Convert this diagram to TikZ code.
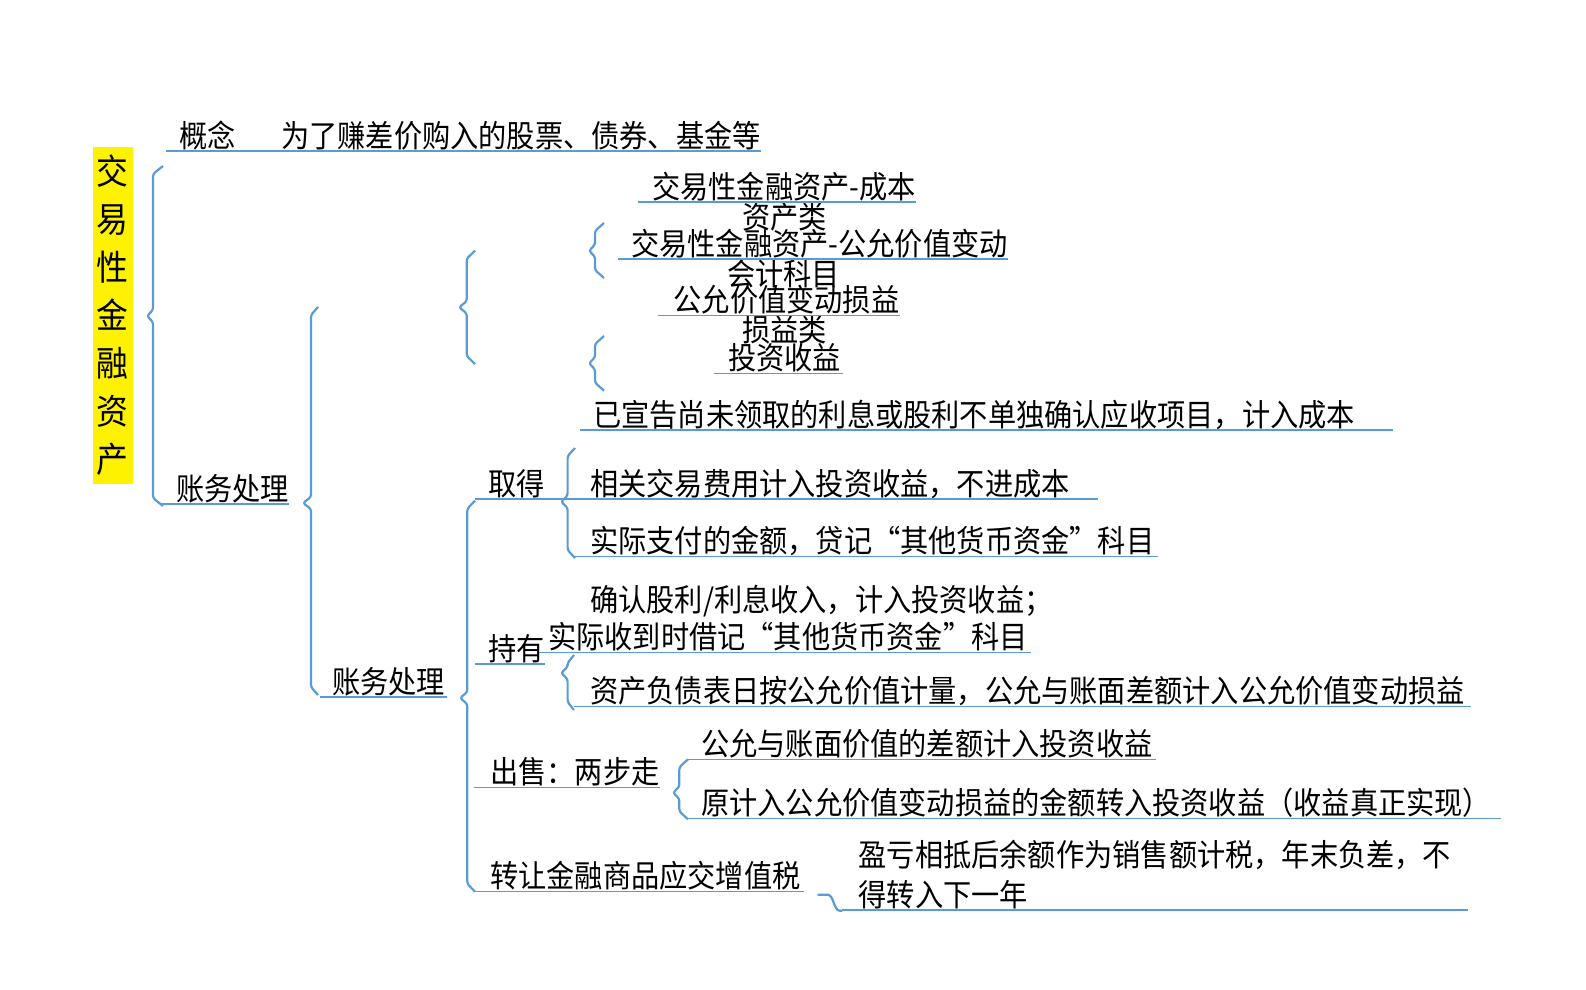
\documentclass[tikz,border=0pt]{standalone}
\usepackage{fontspec}
\usepackage{tikz}

\newfontfamily\cjk[FakeStretch=0.91]{Noto Sans CJK SC}
\definecolor{lineblue}{RGB}{91,155,213}

\tikzset{
    brace/.style={draw=lineblue, line width=2.2pt, rounded corners=2.5pt, line join=round},
    uline/.style={draw=lineblue, line width=1.4pt},
    topic/.style={anchor=south west, inner sep=0pt, text depth=3.7pt, text=black,
        font=\cjk\fontsize{31}{40}\selectfont},
    rootbox/.style={fill=yellow, minimum width=40pt, minimum height=337pt, inner sep=0pt,
        align=center, font=\cjk\fontsize{35}{48}\selectfont}
}

% curly brace: tip x, vertical x, end x, top, tip, bottom
\newcommand{\mapbrace}[6]{%
    \draw[brace] (#3,#4) -- (#2,#4+8) -- (#2,#5-6) -- (#1,#5) -- (#2,#5+6) -- (#2,#6-8) -- (#3,#6);
}

\begin{document}
\begin{tikzpicture}[x=1pt, y=-1pt]
        \useasboundingbox (0,0) rectangle (1586,989);

        % root
        \node[rootbox] (root) at (112.7,315) {交\\易\\性\\金\\融\\资\\产};

        % first level
        \node[topic] (gainian) at (179,151) {概念};
        \node[topic] (gainiandef) at (281,151) {为了赚差价购入的股票、债券、基金等};
        \node[topic] (zhangwu1) at (176,504) {账务处理};
        \node[topic] (zhangwu2) at (332,697) {账务处理};

        % accounting subjects
        \node[topic] (kmcost) at (652,202) {交易性金融资产-成本};
        \node[topic] (zichanlei) at (742,232) {资产类};
        \node[topic] (kmfair) at (631,259) {交易性金融资产-公允价值变动};
        \node[topic] (kuaiji) at (727,289) {会计科目};
        \node[topic] (kmchange) at (673.5,315.7) {公允价值变动损益};
        \node[topic] (sunyilei) at (742,345.5) {损益类};
        \node[topic] (kmincome) at (728,373.3) {投资收益};

        % acquisition
        \node[topic] (yixuangao) at (593,430) {已宣告尚未领取的利息或股利不单独确认应收项目，计入成本};
        \node[topic] (qude) at (488,499) {取得};
        \node[topic] (qdfee) at (590,499) {相关交易费用计入投资收益，不进成本};
        \node[topic] (qdpay) at (590,556.7) {实际支付的金额，贷记“其他货币资金”科目};

        % holding
        \node[topic] (cyconfirm) at (590,615.5) {确认股利/利息收入，计入投资收益；};
        \node[topic] (cyreceive) at (548,652.3) {实际收到时借记“其他货币资金”科目};
        \node[topic] (chiyou) at (488,664) {持有};
        \node[topic] (cyfair) at (590,706.7) {资产负债表日按公允价值计量，公允与账面差额计入公允价值变动损益};

        % sale
        \node[topic] (csdiff) at (701,759.3) {公允与账面价值的差额计入投资收益};
        \node[topic] (chushou) at (490,787.3) {出售：两步走};
        \node[topic] (cstransfer) at (701,818.3) {原计入公允价值变动损益的金额转入投资收益（收益真正实现）};

        % transfer tax
        \node[topic] (zhuanrang) at (490,891.7) {转让金融商品应交增值税};
        \node[topic, align=left] (yingkui) at (858.5,910) {盈亏相抵后余额作为销售额计税，年末负差，不\\得转入下一年};

        % underlines
        \foreach \n/\a/\b in {gainian/13pt/49pt, gainiandef/0pt/0pt, zhangwu1/16pt/0pt,
            zhangwu2/12pt/2pt, kmcost/14pt/0pt, kmfair/13pt/0pt, kmchange/15.5pt/0pt,
            kmincome/14.4pt/2pt, yixuangao/13pt/38pt, qude/13pt/25.6pt, qdfee/22pt/28pt,
            qdpay/16pt/3pt, cyreceive/9pt/3pt, chiyou/13pt/0pt, cyfair/16pt/6pt,
            chushou/16.5pt/0pt, csdiff/13pt/3pt, cstransfer/13pt/10pt,
            zhuanrang/16.5pt/3pt, yingkui/16.5pt/17pt}{
            \draw[uline] ([xshift=-\a]\n.south west) -- ([xshift=\b]\n.south east);
        }

        % braces
        \mapbrace{147}{153}{163}{166}{316}{506}
        \mapbrace{303}{311}{318}{307}{503}{695}
        \mapbrace{459}{466.7}{475}{250.7}{307.3}{364}
        \mapbrace{589}{595}{604}{223}{250.7}{278}
        \mapbrace{589}{595}{604}{336}{363.3}{390.7}
        \mapbrace{460}{467.3}{475}{500.7}{698}{891.7}
        \mapbrace{561}{567.6}{575}{448}{501.7}{558}
        \mapbrace{561}{567.6}{574}{655}{673}{710}
        \mapbrace{673}{679.3}{688}{759.3}{792.7}{819.3}

        % hook to the tax note
        \draw[brace, rounded corners=0pt] ([xshift=17pt,yshift=-3pt]zhuanrang.south east) -- ++(10,0)
            .. controls +(6,0) and +(-6,0) .. ++(12,16) -- ([xshift=-16pt,yshift=-1pt]yingkui.south west);
    \end{tikzpicture}
\end{document}
